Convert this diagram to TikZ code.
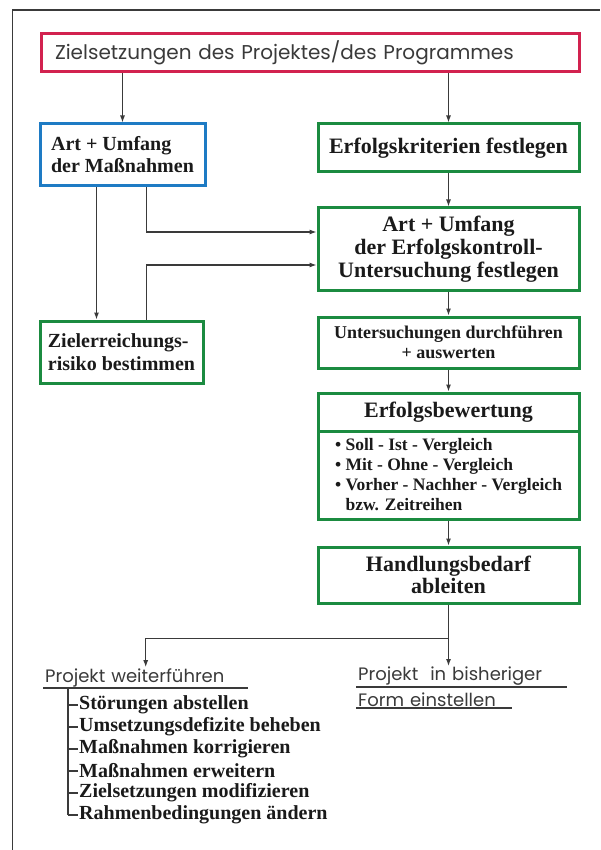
\documentclass[tikz,border=0pt]{standalone}
\usepackage{fontspec}
\setmainfont{Liberation Serif}
\newfontfamily\gothic{Poppins}
\usetikzlibrary{arrows.meta,positioning}
\definecolor{zielred}{HTML}{D2224F}
\definecolor{massblue}{HTML}{1E7BC4}
\definecolor{okgreen}{HTML}{1B8B40}
\definecolor{lineg}{HTML}{3A3A3A}
\definecolor{inkblack}{HTML}{1A1A1A}
\tikzset{box/.style={draw=okgreen, line width=3pt, minimum width=261pt, inner sep=2pt, align=center, text=inkblack, font=\bfseries\fontsize{22}{23}\selectfont}}
\tikzset{arr/.style={draw=lineg, line width=1.1pt, -{Latex[length=7pt,width=5pt]}}}
\tikzset{uline/.style={draw=lineg, line width=1.1pt}}
\tikzset{frame/.style={draw=lineg, line width=1.5pt}}
\tikzset{sans/.style={font=\gothic\fontsize{18}{20}\selectfont, text=lineg, inner ysep=1pt, inner xsep=2pt, anchor=south west, align=left}}
\tikzset{item/.style={anchor=west, inner sep=1pt, text=inkblack, font=\bfseries\fontsize{20}{22}\selectfont}}

\begin{document}
\begin{tikzpicture}[x=1pt,y=-1pt]
	\useasboundingbox (0,0) rectangle (600,850);
	\draw[frame] (12.5,850) -- (12.5,10) -- (600,10);
	
	\node[box, draw=zielred, minimum height=38pt, text width=510pt, inner xsep=14pt, align=left, font=\gothic\fontsize{20}{22}\selectfont, text=lineg] (Ziel) at (310,53) {Zielsetzungen des Projektes/des Programmes};
	
	\node[box, draw=massblue, minimum width=165pt, minimum height=62pt, align=left, font=\bfseries\fontsize{20}{22}\selectfont] (Mass) at (122.5,155) {Art + Umfang\\der Maßnahmen};
	\node[box, minimum width=163pt, minimum height=62pt, align=left, font=\bfseries\fontsize{20}{23}\selectfont] (Risiko) at (121.5,352) {Zielerreichungs-\\risiko bestimmen};
	
	\node[box, minimum height=48pt] (Krit) at (448.5,148) {Erfolgskriterien festlegen};
	\node[box, minimum height=82pt] (Kontr) at (448.5,249) {Art + Umfang\\der Erfolgskontroll-\\Untersuchung festlegen};
	\node[box, minimum height=51pt, font=\bfseries\fontsize{18}{20}\selectfont] (Durch) at (448.5,342.5) {Untersuchungen durchführen\\+ auswerten};
	\node[box, minimum height=38pt] (Bew) at (448.5,412) {Erfolgsbewertung};
	\node[box, minimum height=88pt, align=left, font=\bfseries\fontsize{17.5}{20}\selectfont] (BewL) at (448.5,475) {\textbullet\ Soll - Ist - Vergleich\\\textbullet\ Mit - Ohne - Vergleich\\\textbullet\ Vorher - Nachher - Vergleich\\\phantom{\textbullet\ }bzw. Zeitreihen};
	\node[box, minimum height=56pt, font=\bfseries\fontsize{22}{22}\selectfont] (Handl) at (448.5,575) {Handlungsbedarf\\ableiten};
	
	\draw[arr] (Ziel.south -| Mass.north) -- (Mass);
	\draw[arr] (Ziel.south -| Krit.north) -- (Krit);
	\draw[arr] (Krit) -- (Kontr);
	\draw[arr] ([xshift=-26pt]Mass.south) -- ([xshift=-26pt]Mass.south |- Risiko.north);
	\draw[arr] ([xshift=24pt]Mass.south) |- ([yshift=17pt]Kontr.west);
	\draw[arr] ([xshift=25pt]Risiko.north) |- ([yshift=-16pt]Kontr.west);
	\draw[arr] (Kontr) -- (Durch);
	\draw[arr] (Durch) -- (Bew);
	\draw[arr] (BewL) -- (Handl);
	
	% Verzweigung unten
	\node[sans, text width=201pt] (Weiter) at (43,688) {Projekt weiterführen};
	\node[sans, text width=207pt] (EinstA) at (356,687) {Projekt\ \ in bisheriger};
	\node[sans, text width=152pt] (EinstB) at (356,708) {Form einstellen};
	\draw[uline] (Weiter.south west) -- (Weiter.south east);
	\draw[uline] (EinstA.south west) -- (EinstA.south east);
	\draw[uline] (EinstB.south west) -- (EinstB.south east);
	
	\path (Handl.south) ++(0,34) coordinate (fork);
	\draw[arr] (Handl.south) -- (fork |- EinstA.north);
	\draw[arr] (fork) -| (Weiter.north);
	
	% Massnahmen-Liste
	\coordinate (T) at (68,688);
	\foreach \txt [count=\i] in {Störungen abstellen, Umsetzungsdefizite beheben, Maßnahmen korrigieren, Maßnahmen erweitern, Zielsetzungen modifizieren, Rahmenbedingungen ändern}{
		\node[item] (I\i) at (78,683+22*\i) {\txt};
		\draw[uline] (I\i.west -| T) -- (I\i.west);
	}
	\draw[uline] (T) -- (I6.west -| T);
\end{tikzpicture}
\end{document}
